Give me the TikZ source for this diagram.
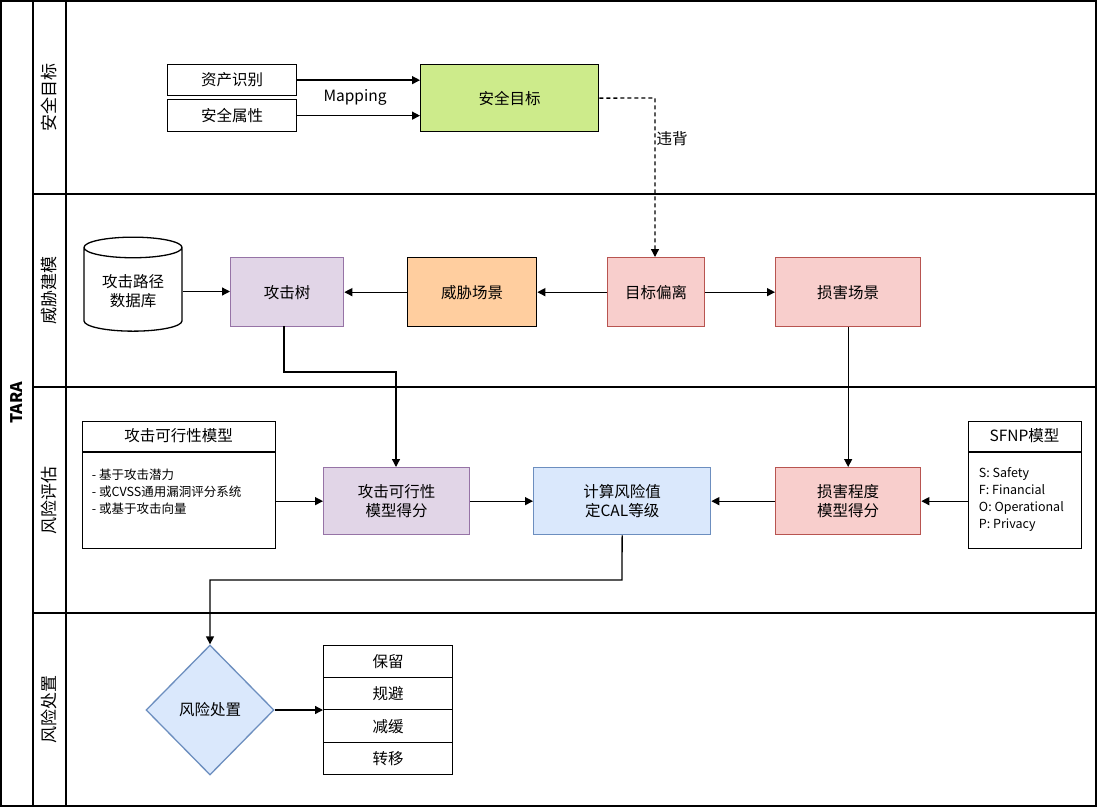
\documentclass[tikz,border=0pt]{standalone}
\usepackage{fontspec}
\setmainfont{Noto Sans CJK SC}
\usetikzlibrary{shapes.geometric,arrows.meta}
\definecolor{grnF}{HTML}{CDEB8B}
\definecolor{purF}{HTML}{E1D5E7}\definecolor{purD}{HTML}{9673A6}
\definecolor{redF}{HTML}{F8CECC}\definecolor{redD}{HTML}{B85450}
\definecolor{bluF}{HTML}{DAE8FC}\definecolor{bluD}{HTML}{6C8EBF}
\definecolor{orF}{HTML}{FFCE9F}
\begin{document}
\begin{tikzpicture}[x=1pt,y=-1pt,font=\fontsize{15.5}{19}\selectfont,line width=1.3pt,
 bx/.style={draw,align=center,anchor=north west,inner sep=0pt},
 arr/.style={-{Triangle[length=8pt,width=8pt]}}]
\useasboundingbox (0,0) rectangle (1098,808);
\fill[white] (0,0) rectangle (1098,808);
% lanes
\draw (1,1) rectangle (1096,806);
\draw (33,1) -- (33,806);
\draw (66,1) -- (66,806);
\foreach \y in {194,387,613} \draw (33,\y) -- (1096,\y);
\node[rotate=90,font=\fontsize{16}{18}\selectfont\bfseries] (tara) at (17,403) {TARA};
\node[rotate=90,font=\fontsize{17}{20}\selectfont] (l1) at (49,97) {安全目标};
\node[rotate=90,font=\fontsize{17}{20}\selectfont] (l2) at (49,290) {威胁建模};
\node[rotate=90,font=\fontsize{17}{20}\selectfont] (l3) at (49,500) {风险评估};
\node[rotate=90,font=\fontsize{17}{20}\selectfont] (l4) at (49,709) {风险处置};
% lane 1
\node[bx,minimum width=129pt,minimum height=31pt] (zc) at (167,64) {资产识别};
\node[bx,minimum width=129pt,minimum height=32pt] (sx) at (167,99) {安全属性};
\node[bx,fill=grnF,minimum width=178pt,minimum height=67pt] (mb) at (420,64) {安全目标};
\draw[arr] (zc.east) -- (zc.east -| mb.west);
\draw[arr] (sx.east) -- (sx.east -| mb.west);
\node (map) at (355,97) {Mapping};
% lane 2
\node[cylinder,shape border rotate=90,draw,aspect=0.3,minimum width=98pt,minimum height=94pt,align=center,fill=white] (db) at (133,291.5) {攻击路径\\数据库};
\node[bx,fill=purF,draw=purD,minimum width=113pt,minimum height=69pt] (gjs) at (230,257) {攻击树};
\node[bx,fill=orF,minimum width=129pt,minimum height=69pt] (wx) at (407,257) {威胁场景};
\node[bx,fill=redF,draw=redD,minimum width=97pt,minimum height=69pt] (pl) at (607,257) {目标偏离};
\node[bx,fill=redF,draw=redD,minimum width=145pt,minimum height=69pt] (sh) at (775,257) {损害场景};
\draw[arr,dash pattern=on 4pt off 3pt] (mb.east) -- (655,98) -- (655,257);
\node (wb) at (672,139) {违背};
\draw[arr] (db.east) -- (gjs.west |- db.east);
\draw[arr] (wx.west) -- (gjs.east);
\draw[arr] (pl.west) -- (wx.east);
\draw[arr] (pl.east) -- (sh.west);
% lane 3
\node[bx,minimum width=193pt,minimum height=127pt] (afm) at (82,421) {};
\draw (82,452) -- (275,452);
\node (afmt) at (178.5,436) {攻击可行性模型};
\node[anchor=west,align=left,font=\fontsize{12.5}{17}\selectfont] (afml) at (88,492) {- 基于攻击潜力\\- 或CVSS通用漏洞评分系统\\- 或基于攻击向量};
\node[bx,fill=purF,draw=purD,minimum width=146pt,minimum height=67pt] (af) at (323,467) {攻击可行性\\模型得分};
\node[bx,fill=bluF,draw=bluD,minimum width=177pt,minimum height=67pt] (cal) at (533,467) {计算风险值\\定CAL等级};
\node[bx,fill=redF,draw=redD,minimum width=145pt,minimum height=67pt] (sd) at (775,467) {损害程度\\模型得分};
\node[bx,minimum width=113pt,minimum height=127pt] (sf) at (968,421) {};
\draw (968,452) -- (1081,452);
\node (sft) at (1024.5,436) {SFNP模型};
\node[anchor=west,align=left,font=\fontsize{12.5}{17}\selectfont] (sfl) at (975,499) {S: Safety\\F: Financial\\O: Operational\\P: Privacy};
\draw[arr] (284,326) -- (284,372) -- (396,372) -- (396,467);
\draw[arr] (sh.south) -- (sd.north);
\draw[arr] (afm.east |- af.west) -- (af.west);
\draw[arr] (af.east) -- (cal.west);
\draw[arr] (sd.west) -- (cal.east);
\draw[arr] (sf.west |- sd.west) -- (sd.east);
% lane 4
\node[diamond,draw=bluD,fill=bluF,minimum width=128pt,minimum height=130pt,inner sep=0pt] (fx) at (210,710) {风险处置};
\draw[arr] (cal.south) -- (622,580) -- (210,580) -- (fx.north);
\node[bx,minimum width=129pt,minimum height=32pt] (b1) at (323,645) {保留};
\node[bx,minimum width=129pt,minimum height=32pt] (b2) at (323,677) {规避};
\node[bx,minimum width=129pt,minimum height=33pt] (b3) at (323,709) {减缓};
\node[bx,minimum width=129pt,minimum height=32pt] (b4) at (323,742) {转移};
\draw[arr] (fx.east) -- (fx.east -| b3.west);
\end{tikzpicture}
\end{document}
